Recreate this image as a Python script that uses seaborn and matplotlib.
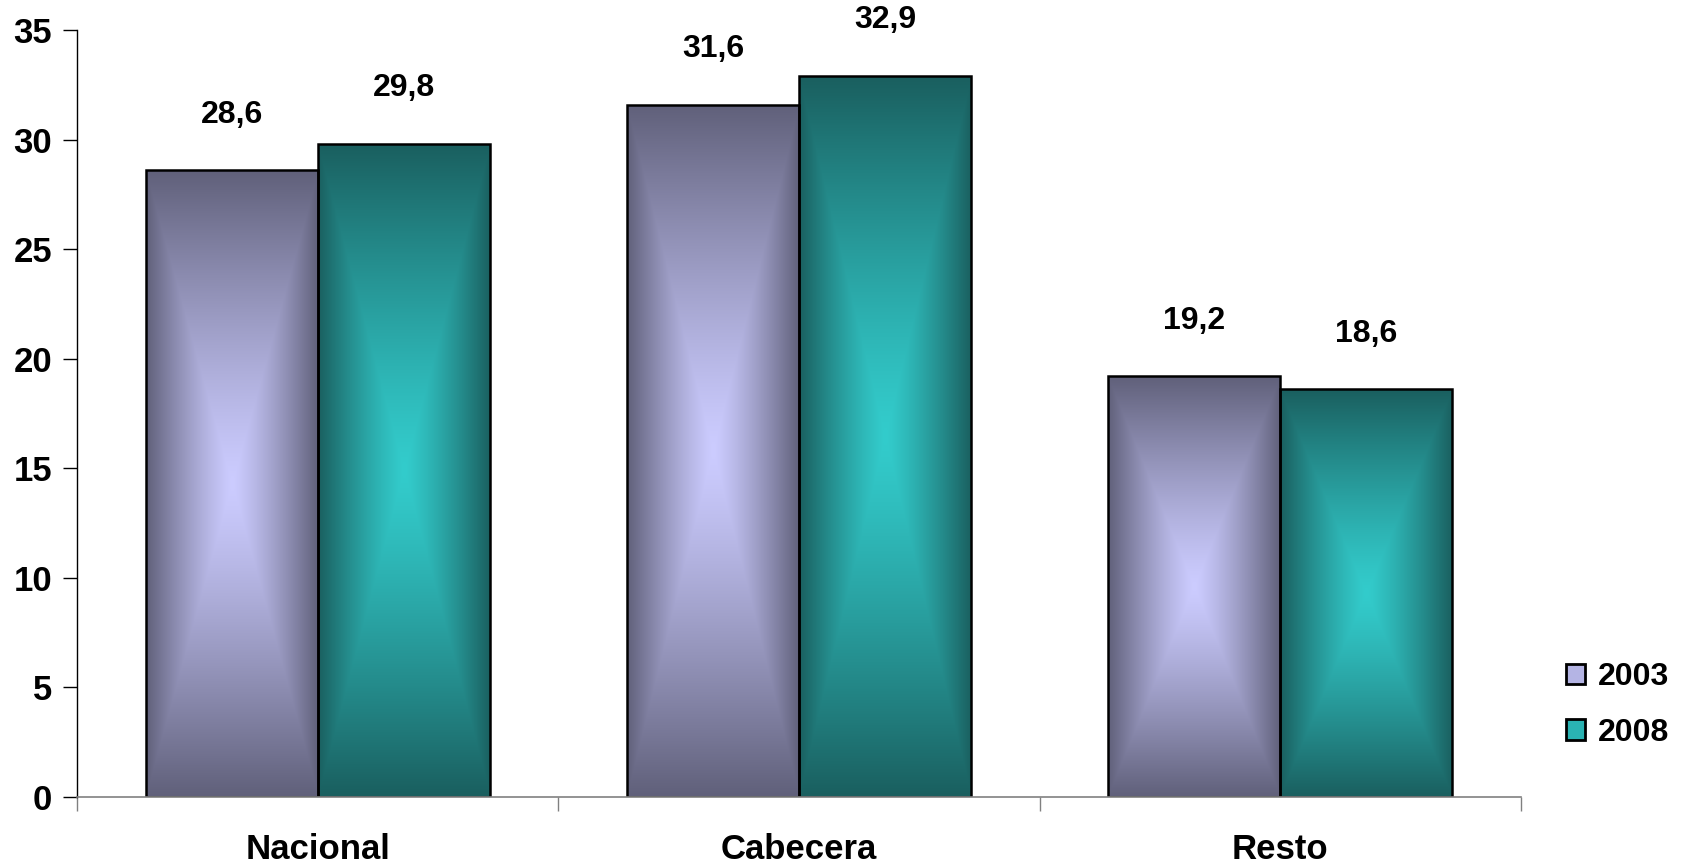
import numpy as np
import pandas as pd
import matplotlib
matplotlib.use("Agg")
import matplotlib.pyplot as plt
import seaborn as sns
from matplotlib.patches import Patch

# data
categories = ["Nacional", "Cabecera", "Resto"]
years = ["2003", "2008"]
values_2003 = [28.6, 31.6, 19.2]
values_2008 = [29.8, 32.9, 18.6]

df = pd.DataFrame({
    "zona": categories * 2,
    "anio": [years[0]] * 3 + [years[1]] * 3,
    "valor": values_2003 + values_2008,
})

# gradient colours (center, edge) per year
center_cols = {"2003": (204, 204, 255), "2008": (51, 204, 204)}
edge_cols = {"2003": (96, 96, 122), "2008": (26, 95, 95)}
mid_cols = {"2003": "#b4b4e4", "2008": "#2ab3b3"}

sns.set_style("white")
plt.rcParams["font.family"] = ["Liberation Sans", "DejaVu Sans"]
plt.rcParams["font.weight"] = "bold"
plt.rcParams["text.color"] = "black"

fig = plt.figure(figsize=(16.86, 8.65), dpi=100)
ax = fig.add_axes([77 / 1686, 68 / 865, (1521 - 77) / 1686, (797 - 30) / 865])

sns.barplot(data=df, x="zona", y="valor", hue="anio", order=categories,
            hue_order=years, palette=[mid_cols[y] for y in years],
            width=0.715, edgecolor="black", linewidth=1.8, ax=ax,
            legend=False)

# "from center" gradient fill
n = 300
u = np.linspace(-1, 1, n)
U, V = np.meshgrid(u, u)
T = np.maximum(np.abs(U), np.abs(V)) ** 1.25
bars = [p for p in ax.patches]
for i, p in enumerate(bars):
    yr = years[i // 3]
    c0 = np.array(center_cols[yr]) / 255
    c1 = np.array(edge_cols[yr]) / 255
    img = c0[None, None, :] * (1 - T[..., None]) + c1[None, None, :] * T[..., None]
    x0, y0 = p.get_x(), p.get_y()
    w, h = p.get_width(), p.get_height()
    im = ax.imshow(img, extent=(x0, x0 + w, y0, y0 + h), aspect="auto",
                   zorder=1, interpolation="bilinear")
    im.set_clip_path(p)
    p.set_facecolor("none")
    p.set_zorder(2)
    val = values_2003[i] if i < 3 else values_2008[i - 3]
    ax.annotate(f"{val:.1f}".replace(".", ","), (x0 + w / 2, y0 + h),
                xytext=(0, 40), textcoords="offset points", ha="center",
                va="center", fontsize=23, fontweight="bold", color="black")

ax.set_xlim(-0.5, 2.5)
ax.set_ylim(0, 35)
ax.set_yticks(range(0, 36, 5))
ax.set_xlabel("")
ax.set_ylabel("")
ax.set_xticks([-0.5, 0.5, 1.5, 2.5], minor=True)
ax.tick_params(axis="x", which="major", length=0, pad=26, labelsize=25,
               labelcolor="black")
ax.tick_params(axis="x", which="minor", length=10, width=1, color="#808080",
               direction="out", bottom=True)
ax.tick_params(axis="y", length=10, width=1, color="black", direction="out",
               labelsize=25, pad=8, left=True, labelcolor="black")
for lbl in ax.get_xticklabels() + ax.get_yticklabels():
    lbl.set_fontweight("bold")

sns.despine(ax=ax, top=True, right=True)
ax.spines["left"].set_color("black")
ax.spines["left"].set_linewidth(1)
ax.spines["bottom"].set_color("#808080")
ax.spines["bottom"].set_linewidth(1.2)

handles = [Patch(facecolor=mid_cols[y], edgecolor="black", linewidth=2) for y in years]
leg = fig.legend(handles, years, loc="center left", bbox_to_anchor=(1566 / 1686, 1 - 705 / 865),
                 frameon=False, borderpad=0, borderaxespad=0,
                 handlelength=0.6, handleheight=0.6, handletextpad=0.4,
                 labelspacing=0.8, prop={"size": 23, "weight": "bold"})
for t in leg.get_texts():
    t.set_color("black")

fig.savefig("out.png", dpi=100)
